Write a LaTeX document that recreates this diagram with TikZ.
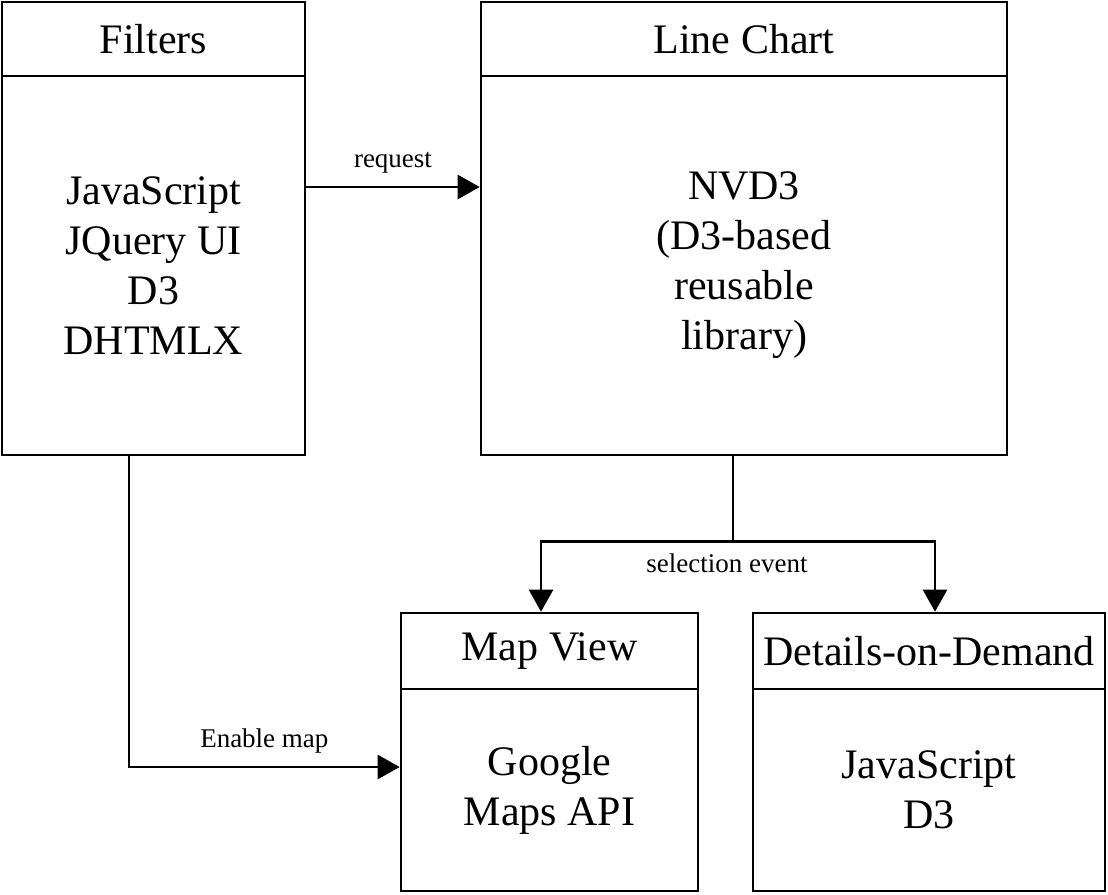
\documentclass[tikz,border=0pt]{standalone}
\usepackage{fontspec}
\setmainfont{Liberation Serif}
\usetikzlibrary{arrows.meta}

\tikzset{
  block/.style={draw, line width=1.3pt, inner sep=0pt, align=center,
                font=\fontsize{21}{25}\selectfont},
  link/.style={line width=1.3pt},
  flow/.style={link, -{Triangle[length=11pt,width=12pt]}},
  lbl/.style={font=\fontsize{13.5}{16}\selectfont, inner sep=2pt}
}

\begin{document}
\begin{tikzpicture}[x=0.5pt,y=-0.5pt]
\useasboundingbox (0,0) rectangle (1108,894);

% Filters
\node[block, minimum width=151.5pt, minimum height=37pt]   (filtersHead) at (153.5,39)  {Filters};
\node[block, minimum width=151.5pt, minimum height=189.5pt] (filtersBody) at (153.5,265.5) {JavaScript\\JQuery UI\\D3\\DHTMLX};

% Line Chart
\node[block, minimum width=263pt, minimum height=37pt]   (chartHead) at (744,39)  {Line Chart};
\node[block, minimum width=263pt, minimum height=189.5pt] (chartBody) at (744,265.5) {NVD3\\(D3-based\\reusable\\library)};

% Map View
\node[block, minimum width=148.5pt, minimum height=38pt]  (mapHead) at (549.5,651) {Map View};
\node[block, minimum width=148.5pt, minimum height=101pt] (mapBody) at (549.5,790) {Google\\Maps API};

% Details-on-Demand
\node[block, minimum width=176pt, minimum height=38pt]  (detailHead) at (929,651) {Details-on-Demand};
\node[block, minimum width=176pt, minimum height=101pt] (detailBody) at (929,790) {JavaScript\\D3};

% connectors
\draw[flow] ([yshift=39.25pt]filtersBody.east) -- ([yshift=39.25pt]chartBody.west)
    node[lbl, midway, above=4pt] (reqLabel) {request};
\draw[flow] ([xshift=-12.25pt]filtersBody.south) |- ([yshift=11.5pt]mapBody.west)
    node[lbl, pos=0.75, above=4pt] (mapLabel) {Enable map};
\draw[link] ([xshift=-5.5pt]chartBody.south) -- ++(0,85) coordinate (fork);
\draw[flow] (fork) -| ([xshift=-4.25pt]mapHead.north);
\draw[flow] (fork) -| ([xshift=3pt]detailHead.north);
\node[lbl, below=4pt] (selLabel) at ([xshift=-3pt]fork) {selection event};
\end{tikzpicture}
\end{document}
